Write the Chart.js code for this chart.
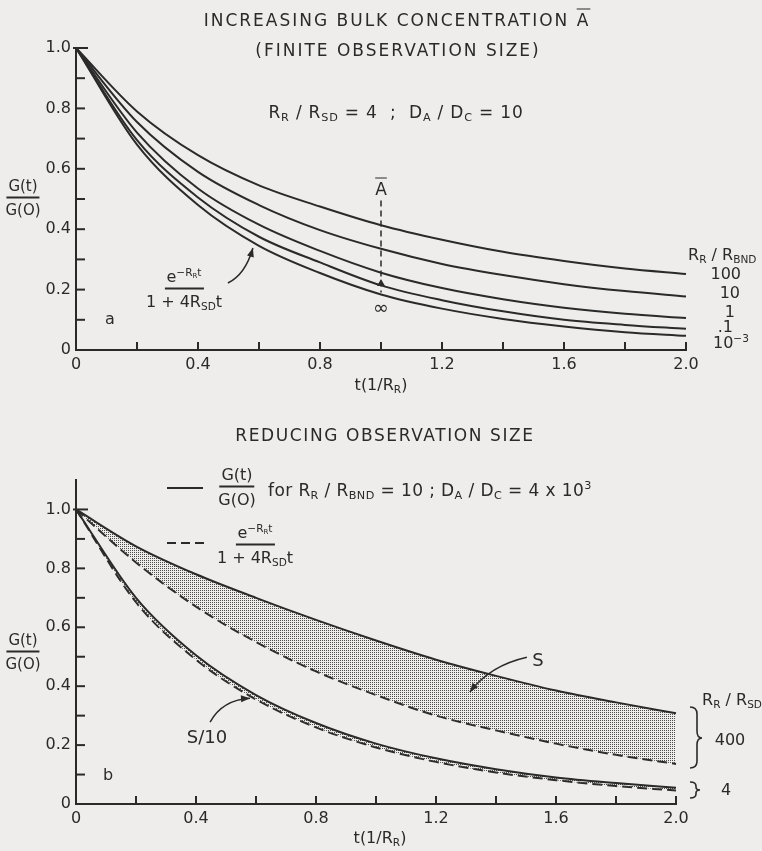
<!DOCTYPE html>
<html>
<head>
<meta charset="utf-8">
<script src="https://cdn.jsdelivr.net/npm/chart.js@4.4.1/dist/chart.umd.min.js"></script>
<style>
  html, body { margin: 0; padding: 0; background: #eeedeb; }
  #page { position: relative; width: 762px; height: 851px; overflow: hidden; font-family: "DejaVu Sans", sans-serif; color: #2a2a2a; }
  canvas { position: absolute; left: 0; }
  svg { position: absolute; left: 0; top: 0; }
  .t { position: absolute; white-space: nowrap; transform: translate(-50%, -50%); line-height: 1; font-size: 16px; }
  .l { transform: translate(0, -50%); }
  .r { transform: translate(-100%, -50%); }
  .head { font-size: 17px; letter-spacing: 1.6px; }
  sub { font-size: 0.66em; vertical-align: -0.3em; line-height: 0; }
  sup { font-size: 0.66em; vertical-align: 0.6em; line-height: 0; }
  .frac { display: inline-flex; flex-direction: column; align-items: center; vertical-align: middle; }
  .frac .n { border-bottom: 2px solid #2a2a2a; padding: 0 2px 3px; }
  .frac .d { padding-top: 4px; }
  .ov { text-decoration: overline; }
</style>
</head>
<body>
<div id="page">
  <canvas id="chartA" width="762" height="400" style="top:0"></canvas>
  <canvas id="chartB" width="762" height="451" style="top:400px"></canvas>

  <svg width="762" height="851">
    <line x1="167" y1="488" x2="203" y2="488" stroke="#2a2a2a" stroke-width="2"/>
    <line x1="167" y1="543" x2="205" y2="543" stroke="#2a2a2a" stroke-width="2" stroke-dasharray="9 5"/>
    <path d="M690 707 Q697 707 697 714 L697 731 Q697 738 702 738 Q697 738 697 745 L697 761 Q697 768 690 768" fill="none" stroke="#2a2a2a" stroke-width="1.6"/>
    <path d="M690 782 Q696 782 696 786 L696 787 Q696 790 700 790 Q696 790 696 793 L696 794 Q696 798 690 798" fill="none" stroke="#2a2a2a" stroke-width="1.6"/>
  </svg>

  <!-- panel a text -->
  <div class="t head" style="left:397px;top:20px;letter-spacing:2px">INCREASING BULK CONCENTRATION <span class="ov">A</span></div>
  <div class="t head" style="left:398px;top:50px;letter-spacing:2px">(FINITE OBSERVATION SIZE)</div>
  <div class="t" style="left:396px;top:112px;font-size:17px;letter-spacing:0.8px">R<sub>R</sub> / R<sub>SD</sub> = 4 &nbsp;; &nbsp;D<sub>A</sub> / D<sub>C</sub> = 10</div>
  <div class="t" style="left:23px;top:198px;font-size:15px"><span class="frac"><span class="n">G(t)</span><span class="d">G(O)</span></span></div>
  <div class="t" style="left:110px;top:319px">a</div>
  <div class="t" style="left:184px;top:289px"><span class="frac"><span class="n">e<sup>&minus;R<sub>R</sub>t</sup></span><span class="d">1 + 4R<sub>SD</sub>t</span></span></div>
  <div class="t" style="left:381px;top:189px;font-size:17px"><span class="ov">A</span></div>
  <div class="t" style="left:381px;top:307px;font-size:19px">&infin;</div>
  <div class="t l" style="left:688px;top:255px">R<sub>R</sub> / R<sub>BND</sub></div>
  <div class="t r" style="left:741px;top:274px">100</div>
  <div class="t r" style="left:740px;top:293px">10</div>
  <div class="t r" style="left:735px;top:312px">1</div>
  <div class="t r" style="left:733px;top:327px">.1</div>
  <div class="t l" style="left:713px;top:343px">10<sup>&minus;3</sup></div>
  <div class="t" style="left:381px;top:385px">t(1/R<sub>R</sub>)</div>

  <!-- panel b text -->
  <div class="t head" style="left:385px;top:435px">REDUCING OBSERVATION SIZE</div>
  <div class="t" style="left:237px;top:487px"><span class="frac"><span class="n">G(t)</span><span class="d">G(O)</span></span></div>
  <div class="t l" style="left:268px;top:490px;font-size:17px;letter-spacing:0.4px">for R<sub>R</sub> / R<sub>BND</sub> = 10 ; D<sub>A</sub> / D<sub>C</sub> = 4 x 10<sup>3</sup></div>
  <div class="t" style="left:255px;top:545px"><span class="frac"><span class="n">e<sup>&minus;R<sub>R</sub>t</sup></span><span class="d">1 + 4R<sub>SD</sub>t</span></span></div>
  <div class="t" style="left:23px;top:652px;font-size:15px"><span class="frac"><span class="n">G(t)</span><span class="d">G(O)</span></span></div>
  <div class="t" style="left:108px;top:775px">b</div>
  <div class="t" style="left:538px;top:660px;font-size:18px">S</div>
  <div class="t" style="left:207px;top:737px;font-size:18px">S/10</div>
  <div class="t l" style="left:702px;top:700px">R<sub>R</sub> / R<sub>SD</sub></div>
  <div class="t" style="left:730px;top:740px">400</div>
  <div class="t" style="left:726px;top:790px">4</div>
  <div class="t" style="left:380px;top:838px">t(1/R<sub>R</sub>)</div>
</div>

<script>
const INK = "#2a2a2a";

// time axis, in units of 1/R_R
const tValues = [0, 0.2, 0.4, 0.6, 0.8, 1.0, 1.2, 1.4, 1.6, 1.8, 2.0];

// panel a: one curve per R_R/R_BND
const bndLabels = ["100", "10", "1", ".1", "10^-3"];
const curve100  = [1, 0.79, 0.645, 0.545, 0.475, 0.413, 0.365, 0.325, 0.295, 0.27, 0.252];
const curve10   = [1, 0.755, 0.59, 0.48, 0.397, 0.335, 0.285, 0.248, 0.218, 0.195, 0.177];
const curve1    = [1, 0.72, 0.535, 0.415, 0.328, 0.256, 0.205, 0.168, 0.14, 0.12, 0.106];
const curve01   = [1, 0.695, 0.505, 0.375, 0.29, 0.214, 0.165, 0.128, 0.10, 0.083, 0.07];
const curve0001 = [1, 0.68, 0.48, 0.345, 0.255, 0.184, 0.137, 0.103, 0.078, 0.059, 0.047];

// panel b: G(t)/G(0) (solid) and the approximation (dashed), R_R/R_SD = 400 and 4
const full400   = [1, 0.875, 0.78, 0.70, 0.625, 0.555, 0.49, 0.435, 0.385, 0.345, 0.308];
const approx400 = [1, 0.82, 0.67, 0.55, 0.45, 0.37, 0.30, 0.25, 0.205, 0.167, 0.136];
const full4     = [1, 0.70, 0.505, 0.37, 0.275, 0.205, 0.155, 0.118, 0.09, 0.071, 0.055];
const approx4   = [1, 0.685, 0.49, 0.355, 0.26, 0.192, 0.143, 0.107, 0.081, 0.061, 0.046];

function pts(vals) {
  return tValues.map((t, i) => ({ x: t, y: vals[i] }));
}

function stipple() {
  const c = document.createElement("canvas");
  c.width = 2; c.height = 2;
  const g = c.getContext("2d");
  g.fillStyle = "#4c4c4c";
  g.fillRect(0, 0, 1, 1);
  return g.createPattern(c, "repeat");
}

function line(vals, extra) {
  return Object.assign({
    data: pts(vals),
    borderColor: INK,
    borderWidth: 2,
    pointRadius: 0,
    cubicInterpolationMode: "monotone",
    clip: false,
    fill: false,
  }, extra || {});
}

function labelY(v) {
  const k = Math.round(v * 10);
  if (k % 2 !== 0 || k > 10) return "";
  return k === 0 ? "0" : (k / 10).toFixed(1);
}
function labelX(v) {
  const k = Math.round(v * 10);
  if (k % 4 !== 0) return "";
  return k === 0 ? "0" : (k / 10).toFixed(1);
}

// inward tick marks, the A-bar marker and the pointer arrows
const decor = {
  id: "decor",
  afterDraw(chart, args, opts) {
    const { ctx, scales: { x, y } } = chart;
    const px = t => x.getPixelForValue(t);
    const py = v => y.getPixelForValue(v);
    ctx.save();
    ctx.strokeStyle = INK;
    ctx.fillStyle = INK;
    ctx.lineWidth = 2;
    y.ticks.forEach(tk => {
      if (tk.value > 1.0001 || tk.value < 0.0001) return;
      const top = tk.value > 0.999;
      ctx.beginPath();
      ctx.moveTo(x.left - (top ? 3 : 0), py(tk.value));
      ctx.lineTo(x.left + (top ? 12 : 9), py(tk.value));
      ctx.stroke();
    });
    x.ticks.forEach(tk => {
      if (tk.value < 0.0001) return;
      ctx.beginPath();
      ctx.moveTo(px(tk.value), y.bottom);
      ctx.lineTo(px(tk.value), y.bottom - 8);
      ctx.stroke();
    });
    if (opts.marker) {
      const m = opts.marker;
      ctx.lineWidth = 1.5;
      ctx.setLineDash([6, 4]);
      ctx.beginPath();
      ctx.moveTo(px(m.t), py(m.from));
      ctx.lineTo(px(m.t), py(m.to));
      ctx.stroke();
      ctx.setLineDash([]);
      ctx.beginPath();
      ctx.moveTo(px(m.t), py(m.head) - 3);
      ctx.lineTo(px(m.t) - 4, py(m.head) + 4);
      ctx.lineTo(px(m.t) + 4, py(m.head) + 4);
      ctx.closePath();
      ctx.fill();
    }
    (opts.arrows || []).forEach(a => {
      const x0 = px(a.from[0]), y0 = py(a.from[1]);
      const xc = px(a.ctrl[0]), yc = py(a.ctrl[1]);
      const x1 = px(a.to[0]), y1 = py(a.to[1]);
      ctx.lineWidth = 1.5;
      ctx.beginPath();
      ctx.moveTo(x0, y0);
      ctx.quadraticCurveTo(xc, yc, x1, y1);
      ctx.stroke();
      const ang = Math.atan2(y1 - yc, x1 - xc);
      ctx.beginPath();
      ctx.moveTo(x1, y1);
      ctx.lineTo(x1 - 9 * Math.cos(ang) + 3.5 * Math.sin(ang), y1 - 9 * Math.sin(ang) - 3.5 * Math.cos(ang));
      ctx.lineTo(x1 - 9 * Math.cos(ang) - 3.5 * Math.sin(ang), y1 - 9 * Math.sin(ang) + 3.5 * Math.cos(ang));
      ctx.closePath();
      ctx.fill();
    });
    ctx.restore();
  }
};

function makeOptions(yMax, pad, xHeight, notes) {
  const font = { family: "DejaVu Sans", size: 16 };
  return {
    responsive: false,
    animation: false,
    devicePixelRatio: 1,
    layout: { padding: pad },
    plugins: { legend: { display: false }, tooltip: { enabled: false }, decor: notes },
    scales: {
      x: {
        type: "linear", min: 0, max: 2,
        grid: { display: false, drawTicks: false },
        border: { display: true, color: INK, width: 2 },
        ticks: { stepSize: 0.2, autoSkip: false, maxRotation: 0, padding: 5, color: INK, font, callback: labelX },
        afterFit: s => { s.height = xHeight; }
      },
      y: {
        type: "linear", min: 0, max: yMax,
        grid: { display: false, drawTicks: false },
        border: { display: true, color: INK, width: 2 },
        ticks: { stepSize: 0.1, autoSkip: false, padding: 5, color: INK, font, callback: labelY },
        afterFit: s => { s.width = 76; }
      }
    }
  };
}

new Chart(document.getElementById("chartA"), {
  type: "line",
  data: {
    datasets: [
      line(curve100, { label: bndLabels[0] }),
      line(curve10, { label: bndLabels[1] }),
      line(curve1, { label: bndLabels[2] }),
      line(curve01, { label: bndLabels[3] }),
      line(curve0001, { label: bndLabels[4] }),
    ]
  },
  options: makeOptions(1.0, { left: 0, top: 48, right: 76, bottom: 0 }, 50, {
    marker: { t: 1.0, from: 0.495, to: 0.19, head: 0.225 },
    arrows: [{ from: [0.498, 0.222], ctrl: [0.555, 0.25], to: [0.58, 0.338] }]
  }),
  plugins: [decor]
});

const dots = stipple();
new Chart(document.getElementById("chartB"), {
  type: "line",
  data: {
    datasets: [
      line(full400, { label: "400 exact", fill: "+1", backgroundColor: dots }),
      line(approx400, { label: "400 approx", borderDash: [10, 5] }),
      line(full4, { label: "4 exact", fill: "+1", backgroundColor: dots }),
      line(approx4, { label: "4 approx", borderDash: [10, 5] }),
    ]
  },
  options: makeOptions(1.1, { left: 0, top: 80, right: 86, bottom: 0 }, 47, {
    arrows: [
      { from: [1.503, 0.498], ctrl: [1.38, 0.47], to: [1.313, 0.38] },
      { from: [0.447, 0.278], ctrl: [0.487, 0.353], to: [0.58, 0.359] }
    ]
  }),
  plugins: [decor]
});
</script>
</body>
</html>
